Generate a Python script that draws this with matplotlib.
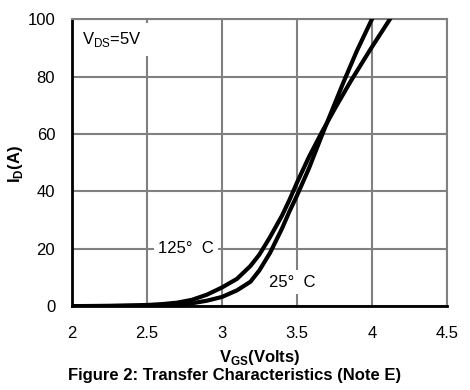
import matplotlib
matplotlib.use("Agg")
import matplotlib.pyplot as plt

plt.rcParams['font.family'] = ['Liberation Sans', 'DejaVu Sans']
plt.rcParams['mathtext.fontset'] = 'custom'
plt.rcParams['mathtext.rm'] = 'Liberation Sans'
plt.rcParams['mathtext.bf'] = 'Liberation Sans:bold'

# Vgs (V) vs Id (A)
vgs_125 = [2.0, 2.25, 2.5, 2.6, 2.7, 2.8, 2.9, 3.0, 3.1, 3.19, 3.25, 3.32,
           3.4, 3.45, 3.5, 3.58, 3.67, 3.76, 3.86, 3.99, 4.12]
id_125 = [0, 0.1, 0.4, 0.7, 1.2, 2.2, 4.0, 6.5, 9.5, 14, 18, 24,
          31.5, 37, 43, 52, 61, 69.5, 78.5, 89.5, 100]
vgs_25 = [2.0, 2.5, 2.6, 2.7, 2.8, 2.9, 3.0, 3.1, 3.19, 3.25, 3.32, 3.4,
          3.45, 3.5, 3.58, 3.67, 3.74, 3.81, 3.9, 4.0]
id_25 = [0, 0.1, 0.2, 0.5, 1.0, 1.9, 3.2, 5.5, 8.5, 12.5, 18.5, 27,
         33, 38.5, 48, 60, 69, 78, 89, 100]

xticks = [2, 2.5, 3, 3.5, 4, 4.5]
xtlabels = ['2', '2.5', '3', '3.5', '4', '4.5']
yticks = [0, 20, 40, 60, 80, 100]

fig = plt.figure(figsize=(4.7, 3.9), dpi=100)
ax = fig.add_axes([0.153, 0.215, 0.798, 0.736])

ax.plot(vgs_125, id_125, color='black', lw=3, solid_joinstyle='round', zorder=3)
ax.plot(vgs_25, id_25, color='black', lw=3, solid_joinstyle='round', zorder=3)

ax.set_xlim(2, 4.5)
ax.set_ylim(0, 100)
ax.set_xticks(xticks)
ax.set_xticklabels(xtlabels)
ax.set_yticks(yticks)
ax.tick_params(length=0, labelsize=12)
ax.tick_params(axis='x', pad=14)
ax.tick_params(axis='y', pad=12)
ax.grid(True, color='#808080', lw=1.5)
ax.set_axisbelow(True)

for s in ['top', 'right']:
    ax.spines[s].set_color('#808080')
    ax.spines[s].set_linewidth(1.5)
for s in ['left', 'bottom']:
    ax.spines[s].set_color('black')
    ax.spines[s].set_linewidth(2)

box = dict(facecolor='white', edgecolor='none', pad=3)
ax.text(2.07, 93, r'V$_{\mathrm{DS}}$=5V', fontsize=12, ha='left', va='center',
        bbox=dict(facecolor='white', edgecolor='none', pad=5), zorder=4)
ax.text(2.76, 20, '125°  C', fontsize=12, ha='center', va='center', bbox=box, zorder=2)
ax.text(3.47, 8.4, '25°  C', fontsize=12, ha='center', va='center', bbox=box, zorder=2)

ax.set_xlabel(r'V$_{\mathbf{GS}}$(Volts)', fontsize=12, fontweight='bold', labelpad=5)
ax.set_ylabel(r'I$_{\mathbf{D}}$(A)', fontsize=12, fontweight='bold')
ax.yaxis.set_label_coords(-0.125, 0.495)
fig.text(0.5, 0.038, 'Figure 2: Transfer Characteristics (Note E)', fontsize=12,
         fontweight='bold', ha='center', va='center')

fig.savefig('out.png', dpi=100)
